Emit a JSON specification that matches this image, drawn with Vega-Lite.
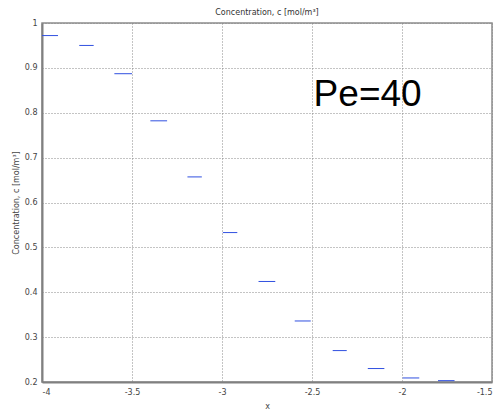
{
  "$schema": "https://vega.github.io/schema/vega-lite/v6.json",
  "autosize": "none",
  "padding": {"left": 42, "top": 23, "right": 9, "bottom": 34},
  "width": 450,
  "height": 359,
  "background": "white",
  "config": {
    "font": "DejaVu Sans",
    "view": {"stroke": "#8c8c8c", "strokeWidth": 1.5},
    "axis": {
      "labelFont": "DejaVu Sans",
      "labelFontSize": 8,
      "labelColor": "#444",
      "titleFont": "DejaVu Sans",
      "titleFontSize": 8,
      "titleFontWeight": "normal",
      "titleColor": "#444",
      "gridColor": "#888",
      "gridDash": [1, 2],
      "gridOpacity": 1,
      "domainColor": "#808080",
      "domainWidth": 2,
      "tickColor": "#666",
      "ticks": false
    }
  },
  "title": {"text": "Concentration, c [mol/m³]", "fontSize": 8, "font": "DejaVu Sans", "fontWeight": "normal", "color": "#333", "offset": 2},
  "data": {
    "values": [
      {"x": -4.0, "x2": -3.911, "c": 0.972},
      {"x": -3.793, "x2": -3.713, "c": 0.950},
      {"x": -3.598, "x2": -3.5, "c": 0.887},
      {"x": -3.398, "x2": -3.305, "c": 0.782},
      {"x": -3.192, "x2": -3.112, "c": 0.657},
      {"x": -2.995, "x2": -2.915, "c": 0.533},
      {"x": -2.797, "x2": -2.704, "c": 0.424},
      {"x": -2.596, "x2": -2.507, "c": 0.336},
      {"x": -2.385, "x2": -2.307, "c": 0.270},
      {"x": -2.19, "x2": -2.098, "c": 0.230},
      {"x": -1.996, "x2": -1.904, "c": 0.209},
      {"x": -1.8, "x2": -1.708, "c": 0.203}
    ]
  },
  "layer": [
    {
      "mark": {"type": "rule", "color": "#3050e0", "strokeWidth": 1},
      "encoding": {
        "x": {"field": "x", "type": "quantitative",
          "scale": {"domain": [-4, -1.5], "nice": false, "zero": false},
          "axis": {"title": "x", "values": [-4, -3.5, -3, -2.5, -2, -1.5], "labelExpr": "datum.value + ''", "labelPadding": 6, "titlePadding": 6}},
        "x2": {"field": "x2"},
        "y": {"field": "c", "type": "quantitative",
          "scale": {"domain": [0.2, 1], "nice": false, "zero": false},
          "axis": {"title": "Concentration, c [mol/m³]", "values": [0.2, 0.3, 0.4, 0.5, 0.6, 0.7, 0.8, 0.9, 1], "labelExpr": "datum.value + ''", "labelPadding": 5, "titlePadding": 4}}
      }
    },
    {
      "data": {"values": [{"x": -2.491, "c": 0.815, "label": "Pe=40"}]},
      "mark": {"type": "text", "font": "Liberation Sans", "fontSize": 37, "align": "left", "baseline": "alphabetic", "color": "black"},
      "encoding": {
        "x": {"field": "x", "type": "quantitative"},
        "y": {"field": "c", "type": "quantitative"},
        "text": {"field": "label"}
      }
    }
  ]
}
